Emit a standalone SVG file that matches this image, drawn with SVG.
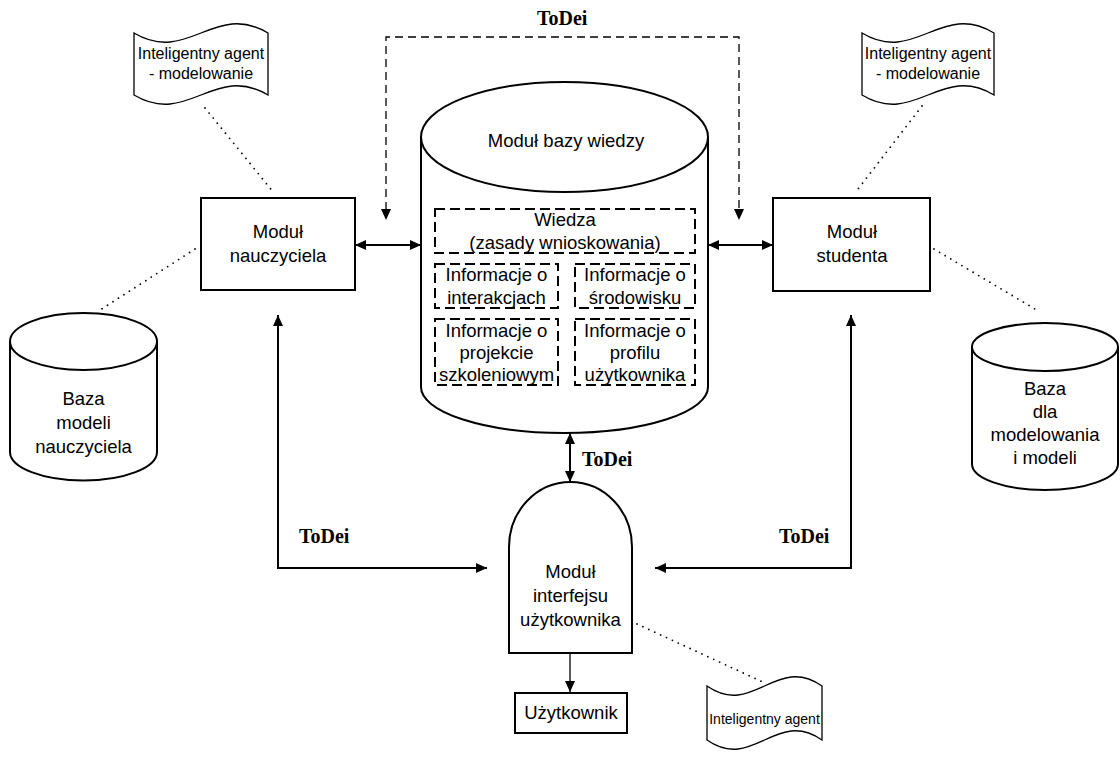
<svg xmlns="http://www.w3.org/2000/svg" width="1120" height="758" viewBox="0 0 1120 758">
<style>
.s{fill:#fff;stroke:#000;stroke-width:2}
.dash{fill:none;stroke:#000;stroke-width:2;stroke-dasharray:10 5}
.t{font-family:"Liberation Sans",Arial,sans-serif;font-size:18.5px;fill:#000;text-anchor:middle}
.f{font-family:"Liberation Sans",Arial,sans-serif;font-size:16px;fill:#000;text-anchor:middle}
.td{font-family:"Liberation Serif","Times New Roman",serif;font-size:20px;font-weight:bold;fill:#000}
.c{fill:none;stroke:#000;stroke-width:2}
.cd{fill:none;stroke:#000;stroke-width:1.3;stroke-dasharray:8 5}
.dot{fill:none;stroke:#000;stroke-width:1.8;stroke-linecap:round;stroke-dasharray:0 6.5}
</style>
<defs>
<marker id="ah" markerUnits="userSpaceOnUse" markerWidth="12" markerHeight="10" refX="11" refY="5" orient="auto-start-reverse">
<path d="M0,0 L11,5 L0,10 Z" fill="#000"/>
</marker>
</defs>

<g id="agent-left">
<path class="s" d="M134,33 C187.6,65 214.4,1 268,33 L268,95 C214.4,63 187.6,127 134,95 Z" style="stroke-width:1.3"/>
<text class="f" x="201" y="59">Inteligentny agent</text>
<text class="f" x="201" y="79">- modelowanie</text>
</g>

<g id="agent-right">
<path class="s" d="M862,33 C914.8,65 941.2,1 994,33 L994,95 C941.2,63 914.8,127 862,95 Z" style="stroke-width:1.3"/>
<text class="f" x="928" y="59">Inteligentny agent</text>
<text class="f" x="928" y="79">- modelowanie</text>
</g>

<g id="agent-bottom">
<path class="s" d="M707,686 C753,718 776,654 822,686 L822,740 C776,708 753,772 707,740 Z" style="stroke-width:1.3"/>
<text class="f" x="764.5" y="724" style="font-size:14px">Inteligentny agent</text>
</g>

<g id="modul-nauczyciela">
<rect class="s" x="201" y="198" width="154" height="92"/>
<text class="t" x="278" y="238">Moduł</text>
<text class="t" x="278" y="262">nauczyciela</text>
</g>

<g id="modul-studenta">
<rect class="s" x="773" y="198" width="157" height="93"/>
<text class="t" x="852" y="238">Moduł</text>
<text class="t" x="852" y="262">studenta</text>
</g>

<g id="modul-bazy-wiedzy">
<path class="s" d="M421,137 L421,387 A143.5,46 0 0 0 708,387 L708,137"/>
<ellipse class="s" cx="564.5" cy="137" rx="143.5" ry="55"/>
<text class="t" x="566" y="147">Moduł bazy wiedzy</text>
<rect class="dash" x="435" y="209" width="260" height="44"/>
<text class="t" x="565" y="226">Wiedza</text>
<text class="t" x="565" y="249">(zasady wnioskowania)</text>
<rect class="dash" x="435" y="264" width="123" height="44"/>
<text class="t" x="496.5" y="281">Informacje o</text>
<text class="t" x="496.5" y="304">interakcjach</text>
<rect class="dash" x="575" y="264" width="120" height="44"/>
<text class="t" x="635" y="281">Informacje o</text>
<text class="t" x="635" y="304">środowisku</text>
<rect class="dash" x="435" y="319" width="123" height="66"/>
<text class="t" x="496.5" y="337">Informacje o</text>
<text class="t" x="496.5" y="359">projekcie</text>
<text class="t" x="496.5" y="381">szkoleniowym</text>
<rect class="dash" x="575" y="319" width="120" height="66"/>
<text class="t" x="635" y="337">Informacje o</text>
<text class="t" x="635" y="359">profilu</text>
<text class="t" x="635" y="381">użytkownika</text>
</g>

<g id="baza-modeli-nauczyciela">
<path class="s" d="M10,341.5 L10,452 A73.5,28.5 0 0 0 157,452 L157,341.5"/>
<ellipse class="s" cx="83.5" cy="341.5" rx="73.5" ry="28.5"/>
<text class="t" x="83.5" y="405">Baza</text>
<text class="t" x="83.5" y="429">modeli</text>
<text class="t" x="83.5" y="453">nauczyciela</text>
</g>

<g id="baza-dla-modelowania">
<path class="s" d="M972,347 L972,464 A73,26 0 0 0 1118,464 L1118,347"/>
<ellipse class="s" cx="1045" cy="347" rx="73" ry="24"/>
<text class="t" x="1045" y="395">Baza</text>
<text class="t" x="1045" y="418">dla</text>
<text class="t" x="1045" y="441">modelowania</text>
<text class="t" x="1045" y="464">i modeli</text>
</g>

<g id="modul-interfejsu">
<path class="s" d="M509,653 L509,547 A61.5,65 0 0 1 632,547 L632,653 Z"/>
<text class="t" x="570.5" y="578">Moduł</text>
<text class="t" x="570.5" y="602">interfejsu</text>
<text class="t" x="570.5" y="626">użytkownika</text>
</g>

<g id="uzytkownik">
<rect class="s" x="515" y="693" width="112" height="40"/>
<text class="t" x="571" y="719">Użytkownik</text>
</g>

<g id="connectors">
<path class="cd" d="M386,210 L386,37 L739,37 L739,210"/>
<path d="M381,209 L386,220 L391,209 Z"/>
<path d="M734,209 L739,220 L744,209 Z"/>
<line class="c" x1="355" y1="245" x2="421" y2="245" marker-start="url(#ah)" marker-end="url(#ah)"/>
<line class="c" x1="708" y1="245" x2="773" y2="245" marker-start="url(#ah)" marker-end="url(#ah)"/>
<path class="c" d="M278,315 L278,568 L487,568" marker-start="url(#ah)" marker-end="url(#ah)"/>
<path class="c" d="M851,315 L851,568 L655,568" marker-start="url(#ah)" marker-end="url(#ah)"/>
<line class="c" x1="570" y1="433" x2="570" y2="482" marker-start="url(#ah)" marker-end="url(#ah)"/>
<line x1="570" y1="653" x2="570" y2="692" stroke="#000" stroke-width="1.3" marker-end="url(#ah)"/>
<line class="dot" x1="205" y1="108" x2="274" y2="193"/>
<line class="dot" x1="922" y1="106" x2="855" y2="193"/>
<line class="dot" x1="195" y1="249" x2="97" y2="312"/>
<line class="dot" x1="934" y1="249" x2="1040" y2="312"/>
<line class="dot" x1="637" y1="624" x2="765" y2="683"/>
<text class="td" x="537" y="25">ToDei</text>
<text class="td" x="582" y="466">ToDei</text>
<text class="td" x="299" y="543">ToDei</text>
<text class="td" x="779" y="543">ToDei</text>
</g>
</svg>
